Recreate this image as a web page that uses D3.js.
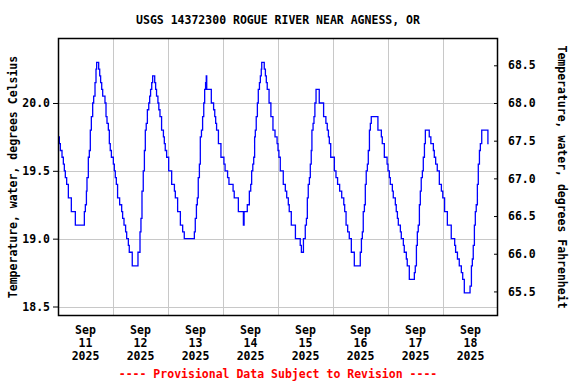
<!DOCTYPE html>
<html>
<head>
<meta charset="utf-8">
<script src="https://cdn.jsdelivr.net/npm/d3@7"></script>
<style>
  body { margin: 0; background: #fff; }
  svg text { font-family: "DejaVu Sans Mono", monospace; font-weight: bold; font-size: 11.5px; }
</style>
</head>
<body>
<div class="graph"></div>
<script>
// Chart text
const title = "USGS 14372300 ROGUE RIVER NEAR AGNESS, OR";
const leftLabel = "Temperature, water, degrees Celsius";
const rightLabel = "Temperature, water, degrees Fahrenheit";
const footer = "---- Provisional Data Subject to Revision ----";

// Tick values
const celsiusTicks = [18.5, 19.0, 19.5, 20.0];
const fahrenheitTicks = [65.5, 66.0, 66.5, 67.0, 67.5, 68.0, 68.5];
const dayLabels = ["11", "12", "13", "14", "15", "16", "17", "18"];

// Water temperature: hours after Sep 11 00:00 when the value changes, and the new value
const obsHours = [
  0, 0.58, 1.02, 1.75, 2.33, 2.76, 3.2, 3.78, 4.51, 5.82, 7.56, 11.5, 11.93, 12.4, 12.65, 13.24, 13.67, 14.1, 14.55, 15.13,
  15.56, 16.15, 16.58, 16.87, 17.75, 18.2, 18.6, 19.06, 19.5, 20.5, 20.95, 21.38, 21.96, 22.4, 22.8, 23.3,
  24.15, 24.58, 25.0, 25.45, 26.0, 26.9, 27.78, 28.2, 28.8, 29.5, 29.96, 30.7, 31.1, 32.4, 34.9, 35.78, 36.2, 36.65,
  37.2, 37.7, 38.1, 38.5, 39.0, 39.6, 40.0, 40.4, 40.9, 41.3, 42.2, 42.6, 43.0, 43.6, 44.0, 44.5, 45.2, 46.0, 46.4,
  46.8, 47.4, 48.3,
  49.6, 50.8, 51.2, 52.2, 53.4, 54.4, 55.1, 59.5, 59.9, 60.4, 60.8, 61.2, 61.7, 62.1, 62.6, 63.1, 63.6, 64.0, 64.4,
  64.7, 64.9, 66.9, 67.9, 68.4, 68.8, 69.2, 70.0, 71.1, 72.4, 72.9, 74.0, 74.6, 76.4, 76.9, 78.7, 80.9, 81.2, 82.6,
  83.5, 84.1, 84.5, 85.0, 85.4, 85.8, 86.1, 86.5, 87.0, 87.4, 87.9, 88.3, 88.7, 88.9, 90.0, 90.5, 90.9, 91.3, 92.1,
  92.9, 93.8, 94.7,
  95.6, 96.0, 96.4, 97.0, 98.3, 99.2, 99.8, 100.5, 100.9, 101.8, 103.6, 105.7, 106.2, 107.1, 107.9, 108.4, 108.8,
  109.2, 109.7, 110.1, 110.5, 110.8, 111.3, 111.7, 112.1, 112.6, 114.0, 115.9, 116.9, 117.5, 118.0, 118.4, 119.0,
  120.6, 121.3, 122.0, 122.9, 123.8, 124.7, 125.1, 125.7, 126.4, 127.1, 128.0, 129.3, 131.9, 132.4, 132.8, 133.2,
  133.7, 134.1, 134.5, 135.0, 135.4, 135.9, 136.3, 136.7, 139.6, 141.1, 141.5, 142.4,
  143.6, 144.0, 144.6, 145.0, 145.9, 146.3, 147.2, 147.6, 148.1, 148.5, 149.4, 149.8, 150.7, 151.1, 152.0, 152.4,
  153.3, 155.5, 155.9, 156.4, 156.8, 157.2, 157.7, 158.1, 158.5, 159.0, 159.4, 159.9, 160.3, 162.0, 162.7, 163.8,
  164.2, 164.8, 165.5, 166.4, 167.3, 167.9, 168.7, 169.9, 171.6, 173.1, 173.5, 174.3, 175.1, 176.0, 176.6, 177.3,
  179.8, 180.4, 180.8, 181.2, 181.7, 182.1, 182.5, 183.0, 183.4, 183.9, 184.3, 184.9, 187.6, 187.9
];
const tempC = [
  19.75, 19.7, 19.65, 19.6, 19.55, 19.5, 19.45, 19.4, 19.3, 19.2, 19.1, 19.2, 19.25, 19.35, 19.45, 19.6, 19.65, 19.8, 19.9, 20.0,
  20.05, 20.15, 20.25, 20.3, 20.25, 20.2, 20.15, 20.1, 20.05, 20.0, 19.9, 19.85, 19.8, 19.7, 19.65, 19.6,
  19.55, 19.5, 19.45, 19.4, 19.3, 19.25, 19.2, 19.15, 19.1, 19.05, 19.0, 18.95, 18.9, 18.8, 18.9, 19.05, 19.15, 19.35,
  19.5, 19.65, 19.8, 19.85, 19.95, 20.0, 20.05, 20.1, 20.15, 20.2, 20.15, 20.1, 20.05, 20.0, 19.95, 19.9, 19.8, 19.75, 19.7,
  19.65, 19.6, 19.5,
  19.4, 19.35, 19.3, 19.2, 19.1, 19.05, 19.0, 19.05, 19.15, 19.25, 19.3, 19.45, 19.55, 19.75, 19.8, 19.9, 20.0, 20.1, 20.15,
  20.2, 20.1, 20.0, 19.95, 19.9, 19.85, 19.8, 19.7, 19.6, 19.55, 19.5, 19.45, 19.4, 19.35, 19.3, 19.2, 19.1, 19.2, 19.25,
  19.35, 19.4, 19.5, 19.55, 19.6, 19.75, 19.8, 19.9, 20.0, 20.1, 20.15, 20.2, 20.25, 20.3, 20.25, 20.2, 20.15, 20.1, 20.0,
  19.9, 19.8, 19.75,
  19.7, 19.65, 19.6, 19.5, 19.4, 19.35, 19.3, 19.25, 19.2, 19.1, 19.0, 18.95, 18.9, 19.0, 19.1, 19.15, 19.3,
  19.4, 19.45, 19.55, 19.65, 19.8, 19.85, 19.9, 20.0, 20.1, 20.0, 19.9, 19.85, 19.8, 19.75, 19.7, 19.6,
  19.5, 19.45, 19.4, 19.35, 19.3, 19.25, 19.2, 19.1, 19.05, 19.0, 18.9, 18.8, 18.9, 19.0, 19.05, 19.2,
  19.25, 19.4, 19.5, 19.55, 19.65, 19.8, 19.85, 19.9, 19.8, 19.75, 19.7, 19.6,
  19.55, 19.5, 19.45, 19.4, 19.35, 19.3, 19.25, 19.2, 19.15, 19.1, 19.05, 19.0, 18.95, 18.9, 18.85, 18.8,
  18.7, 18.75, 18.8, 18.95, 19.05, 19.1, 19.25, 19.35, 19.45, 19.5, 19.6, 19.7, 19.8, 19.75, 19.7, 19.65,
  19.6, 19.55, 19.5, 19.4, 19.35, 19.3, 19.2, 19.1, 19.0, 18.95, 18.9, 18.85, 18.8, 18.75, 18.7, 18.6,
  18.65, 18.8, 18.85, 18.95, 19.1, 19.2, 19.25, 19.4, 19.55, 19.65, 19.7, 19.8, 19.7, 19.7
];

let width = 576;
let height = 384;
let margin = { top: 38, right: 78, bottom: 68, left: 58 };

let start = new Date(2025, 8, 11);
let end = new Date(2025, 8, 19);

let data = obsHours.map((h, i) => ({ date: d3.timeMinute.offset(start, Math.round(h * 60)), value: tempC[i] }));

let svg = d3.select(".graph").append("svg")
  .attr("width", width)
  .attr("height", height);

// Scales
let x = d3.scaleTime()
  .domain([start, end])
  .range([margin.left, width - margin.right]);

let y = d3.scaleLinear()
  .domain([18.43, 20.479])
  .range([height - margin.bottom, margin.top]);

let yF = d3.scaleLinear()
  .domain(y.domain().map(c => c * 1.8 + 32))
  .range(y.range());

// Grid lines
let days = d3.timeDay.range(d3.timeDay.offset(start, 1), end);
svg.append("g")
  .selectAll("line.vgrid")
  .data(days)
  .join("line")
  .attr("x1", d => Math.round(x(d)) + 0.5)
  .attr("x2", d => Math.round(x(d)) + 0.5)
  .attr("y1", margin.top)
  .attr("y2", height - margin.bottom)
  .attr("stroke", "#c8c8c8");

svg.append("g")
  .selectAll("line.hgrid")
  .data(celsiusTicks)
  .join("line")
  .attr("x1", margin.left)
  .attr("x2", width - margin.right)
  .attr("y1", d => Math.round(y(d)) + 0.5)
  .attr("y2", d => Math.round(y(d)) + 0.5)
  .attr("stroke", "#c8c8c8");

// Data line
let line = d3.line()
  .x(d => x(d.date))
  .y(d => y(d.value))
  .curve(d3.curveStepAfter);

svg.append("path")
  .datum(data)
  .attr("fill", "none")
  .attr("stroke", "#0000ff")
  .attr("stroke-width", 1.3)
  .attr("d", line);

// Frame
svg.append("rect")
  .attr("x", margin.left + 0.5)
  .attr("y", margin.top + 0.5)
  .attr("width", width - margin.left - margin.right - 1)
  .attr("height", height - margin.top - margin.bottom - 1)
  .attr("fill", "none")
  .attr("stroke", "#000")
  .attr("stroke-width", 1.5);

// Left axis (Celsius)
let yAxis = svg.append("g")
  .attr("transform", "translate(" + margin.left + ",0)")
  .call(d3.axisLeft(y).tickValues(celsiusTicks).tickFormat(d3.format(".1f")).tickSize(5).tickPadding(3));
yAxis.select(".domain").remove();

// Right axis (Fahrenheit), ticks inside
let yAxisF = svg.append("g")
  .attr("transform", "translate(" + (width - margin.right) + ",0)")
  .call(d3.axisRight(yF).tickValues(fahrenheitTicks).tickFormat(d3.format(".1f")).tickSize(-4).tickPadding(10));
yAxisF.select(".domain").remove();

svg.selectAll(".tick text")
  .attr("fill", "#000")
  .style("font-family", "'DejaVu Sans Mono', monospace")
  .style("font-weight", "bold")
  .style("font-size", "11.5px");

// Day labels at noon
let noons = dayLabels.map((d, i) => d3.timeHour.offset(start, 24 * i + 12));
let xLabels = svg.append("g")
  .selectAll("text")
  .data(noons)
  .join("text")
  .attr("text-anchor", "middle")
  .attr("y", 334);
xLabels.append("tspan").attr("x", d => x(d)).text("Sep");
xLabels.append("tspan").attr("x", d => x(d)).attr("dy", 13).text((d, i) => dayLabels[i]);
xLabels.append("tspan").attr("x", d => x(d)).attr("dy", 13).text("2025");

// Titles
svg.append("text")
  .attr("x", (margin.left + width - margin.right) / 2)
  .attr("y", 24)
  .attr("text-anchor", "middle")
  .text(title);

svg.append("text")
  .attr("transform", "translate(17," + (margin.top + height - margin.bottom) / 2 + ") rotate(-90)")
  .attr("text-anchor", "middle")
  .text(leftLabel);

svg.append("text")
  .attr("transform", "translate(558," + (margin.top + height - margin.bottom) / 2 + ") rotate(90)")
  .attr("text-anchor", "middle")
  .text(rightLabel);

svg.append("text")
  .attr("x", (margin.left + width - margin.right) / 2)
  .attr("y", 378)
  .attr("text-anchor", "middle")
  .attr("fill", "#ff0000")
  .text(footer);
</script>
</body>
</html>
